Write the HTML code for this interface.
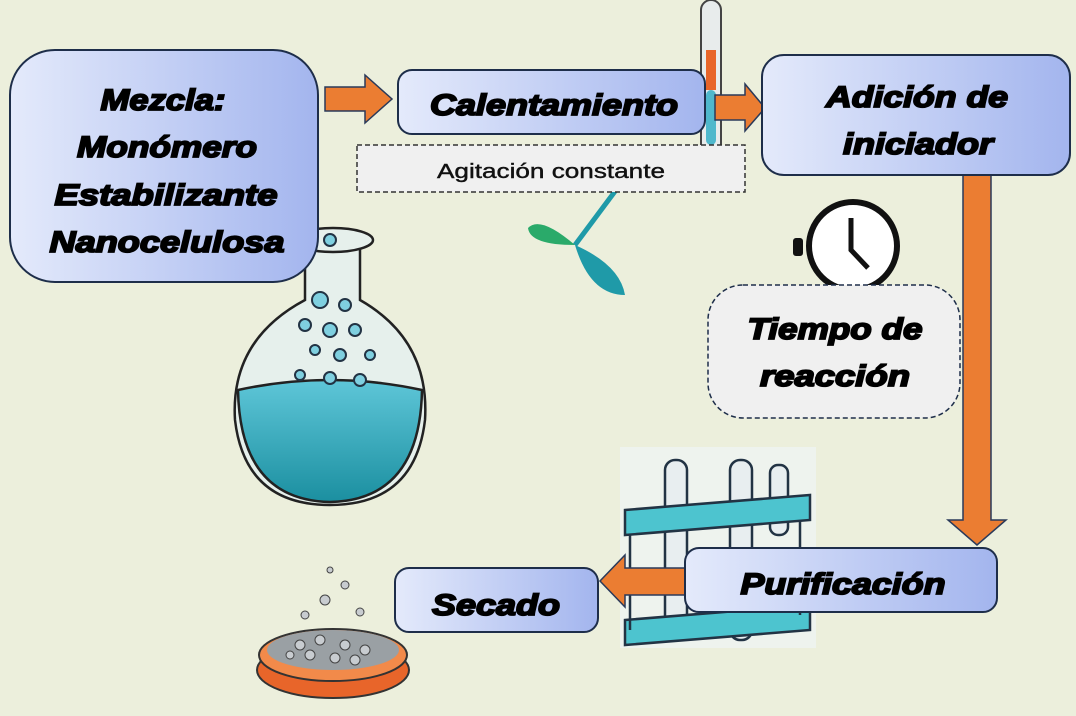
<!DOCTYPE html>
<html><head><meta charset="utf-8"><style>
html,body{margin:0;padding:0;background:#ecefdc;}
svg{display:block}
.t{font-family:"Liberation Sans",sans-serif;font-weight:bold;font-style:italic;fill:#000;stroke:#000;stroke-width:1.8;text-anchor:middle}
</style></head><body>
<svg width="1076" height="716" viewBox="0 0 1076 716" xmlns="http://www.w3.org/2000/svg">
<defs>
<linearGradient id="g" x1="0" y1="0" x2="1" y2="0">
<stop offset="0" stop-color="#e4eafb"/><stop offset="1" stop-color="#a3b5ee"/></linearGradient>
<linearGradient id="liq" x1="0" y1="0" x2="0" y2="1">
<stop offset="0" stop-color="#5ec6d8"/><stop offset="1" stop-color="#1b8fa0"/></linearGradient>
</defs>
<rect width="1076" height="716" fill="#ecefdc"/>

<!-- flask -->
<g stroke="#222" stroke-width="2.5">
<path d="M305 240 L305 300 Q230 340 235 420 Q245 505 330 505 Q415 505 425 420 Q430 340 360 300 L360 240 Z" fill="#e6f0ec"/>
<path d="M238 390 Q330 370 422 390 Q420 500 330 502 Q240 500 238 390 Z" fill="url(#liq)"/>
<ellipse cx="333" cy="240" rx="40" ry="12" fill="#e6f0ec"/>
</g>
<g fill="#7fd0e0" stroke="#234" stroke-width="2">
<circle cx="330" cy="240" r="6"/><circle cx="320" cy="300" r="8"/><circle cx="345" cy="305" r="6"/>
<circle cx="330" cy="330" r="7"/><circle cx="305" cy="325" r="6"/><circle cx="355" cy="330" r="6"/>
<circle cx="315" cy="350" r="5"/><circle cx="340" cy="355" r="6"/><circle cx="370" cy="355" r="5"/>
<circle cx="300" cy="375" r="5"/><circle cx="330" cy="378" r="6"/><circle cx="360" cy="380" r="6"/>
</g>

<!-- stirrer -->
<path d="M616 190 L575 245" stroke="#1f9aa8" stroke-width="5"/>
<path d="M575 245 Q540 215 528 228 Q530 245 575 245Z" fill="#2aaa6a"/>
<path d="M575 245 Q590 295 625 295 Q620 265 575 245Z" fill="#1f9aa8"/>

<!-- thermometer -->
<rect x="701" y="0" width="20" height="158" rx="10" fill="#e8ecec" stroke="#444" stroke-width="2"/>
<rect x="706" y="50" width="10" height="40" fill="#e8652a"/>
<rect x="706" y="90" width="10" height="55" rx="5" fill="#4fb8cc"/>

<!-- clock -->
<circle cx="853" cy="246" r="44" fill="#fff" stroke="#111" stroke-width="6"/>
<rect x="793" y="238" width="10" height="18" rx="3" fill="#111"/>
<path d="M851 218 L851 250 L868 268" stroke="#111" stroke-width="5" fill="none"/>

<!-- test tube rack -->
<rect x="620" y="447" width="196" height="201" fill="#eef3ee"/>
<g stroke="#234" stroke-width="2.5">
<rect x="665" y="460" width="22" height="180" rx="10" fill="#e8eef0"/>
<rect x="730" y="460" width="22" height="180" rx="10" fill="#e8eef0"/>
<rect x="770" y="465" width="18" height="70" rx="8" fill="#e8eef0"/>
<path d="M625 510 L810 495 L810 520 L625 535 Z" fill="#4dc4cf"/>
<path d="M625 620 L810 605 L810 630 L625 645 Z" fill="#4dc4cf"/>
<line x1="630" y1="535" x2="630" y2="630"/><line x1="800" y1="520" x2="800" y2="615"/>
</g>

<!-- petri dish -->
<ellipse cx="333" cy="670" rx="76" ry="28" fill="#e8652a" stroke="#333" stroke-width="2"/>
<ellipse cx="333" cy="655" rx="74" ry="26" fill="#f28a4a" stroke="#333" stroke-width="2"/>
<ellipse cx="333" cy="650" rx="66" ry="20" fill="#9aa0a4"/>
<g fill="#c8ccd0" stroke="#444" stroke-width="1">
<circle cx="300" cy="645" r="5"/><circle cx="320" cy="640" r="5"/><circle cx="345" cy="645" r="5"/><circle cx="365" cy="650" r="5"/>
<circle cx="310" cy="655" r="5"/><circle cx="335" cy="658" r="5"/><circle cx="355" cy="660" r="5"/><circle cx="290" cy="655" r="4"/>
<circle cx="325" cy="600" r="5"/><circle cx="345" cy="585" r="4"/><circle cx="305" cy="615" r="4"/><circle cx="360" cy="612" r="4"/><circle cx="330" cy="570" r="3"/>
</g>

<!-- arrows -->
<g fill="#eb7d32" stroke="#2a3a5a" stroke-width="1.5">
<path d="M325 87 L365 87 L365 75 L392 99 L365 123 L365 111 L325 111 Z"/>
<path d="M715 95 L745 95 L745 84 L765 108 L745 131 L745 120 L715 120 Z"/>
<path d="M963 175 L991 175 L991 520 L1006 520 L977 545 L948 520 L963 520 Z"/>
<path d="M685 568 L625 568 L625 555 L600 581 L625 607 L625 595 L685 595 Z"/>
</g>

<!-- boxes -->
<g stroke="#1e2e4a" stroke-width="2" fill="url(#g)">
<rect x="10" y="50" width="308" height="232" rx="45"/>
<rect x="398" y="70" width="307" height="64" rx="14"/>
<rect x="762" y="55" width="308" height="120" rx="22"/>
<rect x="685" y="548" width="312" height="64" rx="14"/>
<rect x="395" y="568" width="203" height="64" rx="14"/>
</g>
<rect x="357" y="145" width="388" height="47" fill="#f0f0f0" stroke="#333" stroke-width="1.5" stroke-dasharray="5,3"/>
<rect x="708" y="285" width="252" height="133" rx="35" fill="#f0f0f0" stroke="#1e2e4a" stroke-width="1.5" stroke-dasharray="5,3"/>

<!-- text -->
<g class="t" font-size="30">
<text x="163" y="110" textLength="125" lengthAdjust="spacingAndGlyphs">Mezcla:</text>
<text x="167" y="157" textLength="180" lengthAdjust="spacingAndGlyphs">Monómero</text>
<text x="166" y="205" textLength="223" lengthAdjust="spacingAndGlyphs">Estabilizante</text>
<text x="167" y="252" textLength="235" lengthAdjust="spacingAndGlyphs">Nanocelulosa</text>
<text x="554" y="115" textLength="248" lengthAdjust="spacingAndGlyphs">Calentamiento</text>
<text x="917" y="107" textLength="182" lengthAdjust="spacingAndGlyphs">Adición de</text>
<text x="918" y="154" textLength="150" lengthAdjust="spacingAndGlyphs">iniciador</text>
<text x="835" y="339" textLength="175" lengthAdjust="spacingAndGlyphs">Tiempo de</text>
<text x="835" y="386" textLength="150" lengthAdjust="spacingAndGlyphs">reacción</text>
<text x="843" y="594" textLength="205" lengthAdjust="spacingAndGlyphs">Purificación</text>
<text x="496" y="615" textLength="128" lengthAdjust="spacingAndGlyphs">Secado</text>
</g>
<text x="551" y="178" font-family="Liberation Sans,sans-serif" font-size="20" text-anchor="middle" fill="#111" stroke="#111" stroke-width="0.4" textLength="228" lengthAdjust="spacingAndGlyphs">Agitación constante</text>
</svg>
</body></html>
